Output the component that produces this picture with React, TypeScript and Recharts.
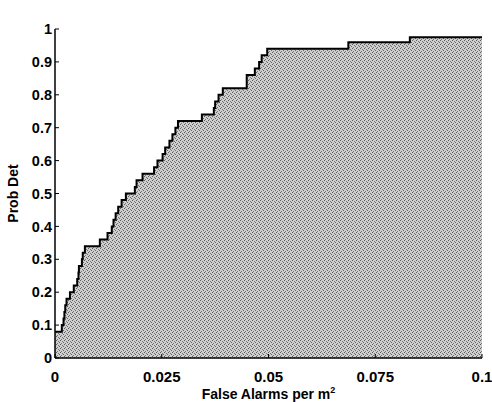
import { Area, AreaChart, XAxis, YAxis } from "recharts"

// step points of the ROC curve (false alarms per m^2, prob det)
const falseAlarms = [
  0, 0.0016, 0.002, 0.0022, 0.0024, 0.0027, 0.0035, 0.0044, 0.0052, 0.0055,
  0.0056, 0.0063, 0.0065, 0.007, 0.0105, 0.0123, 0.0133, 0.0137, 0.0142,
  0.0148, 0.0156, 0.0166, 0.0187, 0.0191, 0.0205, 0.0232, 0.024, 0.0252,
  0.0258, 0.0268, 0.0275, 0.0282, 0.0288, 0.0344, 0.0372, 0.0375, 0.0383,
  0.0393, 0.0449, 0.0468, 0.0478, 0.0484, 0.0497, 0.0687, 0.0831, 0.1,
]
const probDet = [
  0.08, 0.1, 0.12, 0.14, 0.16, 0.18, 0.2, 0.22, 0.24, 0.26, 0.28, 0.3, 0.32,
  0.34, 0.36, 0.38, 0.4, 0.42, 0.44, 0.46, 0.48, 0.5, 0.52, 0.54, 0.56, 0.58,
  0.6, 0.62, 0.64, 0.66, 0.68, 0.7, 0.72, 0.74, 0.76, 0.78, 0.8, 0.82, 0.86,
  0.88, 0.9, 0.92, 0.94, 0.96, 0.975, 0.975,
]

const xTicks = [0, 0.025, 0.05, 0.075, 0.1]
const yTicks = [0, 0.1, 0.2, 0.3, 0.4, 0.5, 0.6, 0.7, 0.8, 0.9, 1]

const title = "Lane 3"
const xLabel = "False Alarms per m"
const yLabel = "Prob Det"

const data = falseAlarms.map((x, i) => ({ x, pd: probDet[i] }))

const font = "'Liberation Sans', Arial, sans-serif"

function TitleLabel({ viewBox }: any) {
  return (
    <text
      x={viewBox.x + viewBox.width / 2}
      y={20}
      textAnchor="middle"
      fontFamily={font}
      fontWeight="bold"
      fontSize={14}
      fill="#000"
    >
      {title}
    </text>
  )
}

function XLabel({ viewBox }: any) {
  return (
    <text
      x={viewBox.x + viewBox.width / 2}
      y={399}
      textAnchor="middle"
      fontFamily={font}
      fontWeight="bold"
      fontSize={14}
      fill="#000"
    >
      {xLabel}
      <tspan dy={-6} fontSize={9}>2</tspan>
    </text>
  )
}

function YLabel({ viewBox }: any) {
  const cy = viewBox.y + viewBox.height / 2
  return (
    <text
      x={18}
      y={cy}
      transform={`rotate(-90, 18, ${cy})`}
      textAnchor="middle"
      fontFamily={font}
      fontWeight="bold"
      fontSize={14}
      fill="#000"
    >
      {yLabel}
    </text>
  )
}

export default function App() {
  const axisLine = { stroke: "#000", strokeWidth: 1.5 }
  const tickLine = { stroke: "#000", strokeWidth: 1 }
  return (
    <div style={{ position: "absolute", left: 0, top: 0, background: "#fff" }}>
      <AreaChart
        width={492}
        height={402}
        data={data}
        margin={{ top: 29, right: 10, left: 0, bottom: 14 }}
      >
        <defs>
          <pattern id="stipple" width="4" height="4" patternUnits="userSpaceOnUse">
            <rect width="4" height="4" fill="#cfcfcf" />
            <rect x="0" y="0" width="1" height="1" fill="#5a5a5a" />
            <rect x="2" y="1" width="1" height="1" fill="#727272" />
            <rect x="1" y="3" width="1" height="1" fill="#7a7a7a" />
            <rect x="3" y="2" width="1" height="1" fill="#666" />
          </pattern>
        </defs>
        <XAxis
          dataKey="x"
          type="number"
          domain={[0, 0.1]}
          ticks={xTicks}
          interval={0}
          height={30}
          axisLine={axisLine}
          tickLine={tickLine}
          tickSize={-4}
          tickMargin={17}
          tick={{ fill: "#000", fontSize: 15, fontWeight: "bold", fontFamily: font }}
          label={<XLabel />}
        />
        <XAxis
          xAxisId="top"
          dataKey="x"
          type="number"
          orientation="top"
          domain={[0, 0.1]}
          ticks={xTicks}
          height={0}
          axisLine={axisLine}
          tickLine={tickLine}
          tickSize={-4}
          tick={false}
          label={<TitleLabel />}
        />
        <YAxis
          type="number"
          domain={[0, 1]}
          ticks={yTicks}
          interval={0}
          width={55}
          axisLine={axisLine}
          tickLine={tickLine}
          tickSize={-4}
          tickMargin={7}
          tick={{ fill: "#000", fontSize: 14.5, fontWeight: "bold", fontFamily: font }}
          label={<YLabel />}
        />
        <YAxis
          yAxisId="right"
          orientation="right"
          type="number"
          domain={[0, 1]}
          ticks={yTicks}
          width={0}
          axisLine={axisLine}
          tickLine={tickLine}
          tickSize={-4}
          tick={false}
        />
        <Area
          type="stepAfter"
          dataKey="pd"
          stroke="#000"
          strokeWidth={2}
          fill="url(#stipple)"
          fillOpacity={1}
          isAnimationActive={false}
        />
      </AreaChart>
    </div>
  )
}
